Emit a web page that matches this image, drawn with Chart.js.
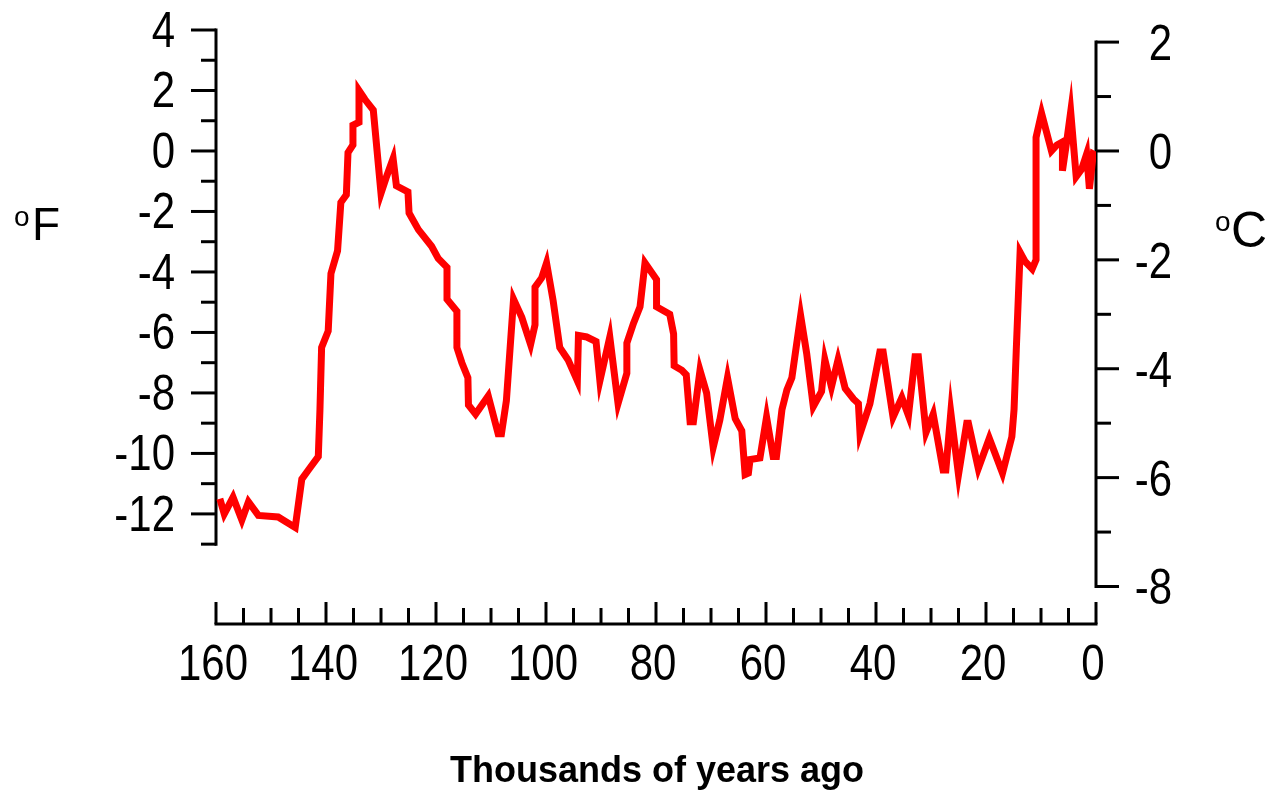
<!DOCTYPE html>
<html>
<head>
<meta charset="utf-8">
<title>Temperature, last 160,000 years</title>
<script src="https://cdn.jsdelivr.net/npm/chart.js@4.4.1/dist/chart.umd.min.js"></script>
<style>
  html, body { margin: 0; padding: 0; background: #ffffff; }
  #wrap { position: relative; width: 1272px; height: 792px; }
</style>
</head>
<body>
<div id="wrap"><canvas id="tempChart"></canvas></div>
<script>
// ------------------------------------------------------------
// Data
// ------------------------------------------------------------
const ages = [
  159.3, 158.5, 156.9, 155.3, 154.1, 152.3, 148.7, 145.6, 144.4, 143.2,
  141.4, 141.1, 140.8, 139.6, 139.1, 137.9, 137.3, 136.3, 136.0, 135.1,
  135.1, 134.0, 134.0, 132.9, 131.4, 130.0, 129.0, 127.8, 127.2, 125.1,
  124.9, 123.2, 120.8, 119.6, 118.0, 118.0, 116.2, 116.2, 115.3, 114.2,
  114.1, 112.8, 110.5, 108.7, 108.1, 107.2, 105.9, 104.4, 102.8, 102.0,
  102.0, 100.8, 99.9, 98.7, 97.5, 96.0, 94.3, 94.1, 92.6, 90.9,
  90.2, 88.4, 86.9, 85.3, 85.3, 84.1, 82.9, 82.0, 79.9, 79.9,
  77.5, 76.8, 76.7, 75.3, 74.5, 73.8, 73.2, 72.0, 70.8, 69.6,
  68.4, 67.0, 65.6, 64.4, 63.8, 63.2, 62.9, 61.1, 59.9, 58.7,
  58.1, 57.1, 56.2, 55.3, 53.7, 52.6, 51.4, 49.9, 49.3, 48.1,
  46.9, 45.6, 44.1, 43.2, 42.9, 41.1, 39.3, 38.7, 36.9, 35.3,
  34.1, 32.9, 32.3, 30.9, 29.6, 27.8, 27.3, 26.4, 25.0, 23.5,
  23.2, 21.4, 19.4, 17.0, 15.3, 14.9, 14.5, 13.8, 12.9, 11.6,
  10.9, 10.9, 9.9, 8.1, 7.1, 6.1, 6.1, 5.3, 4.6, 3.6,
  2.6, 1.7, 1.2, 0.5, 0.0
];

const tempF = [
  -11.5, -12.0, -11.45, -12.2, -11.6, -12.05, -12.1, -12.45, -10.85, -10.55,
  -10.1, -8.55, -6.5, -5.95, -4.05, -3.3, -1.7, -1.45, -0.05, 0.2,
  0.85, 0.95, 2.0, 1.7, 1.35, -1.4, -0.85, -0.25, -1.15, -1.35,
  -2.05, -2.6, -3.15, -3.55, -3.85, -4.9, -5.3, -6.5, -7.0, -7.5,
  -8.4, -8.7, -8.1, -9.35, -9.35, -8.25, -4.9, -5.5, -6.4, -5.75,
  -4.5, -4.2, -3.7, -4.95, -6.5, -6.9, -7.6, -6.1, -6.15, -6.3,
  -7.6, -6.15, -8.35, -7.35, -6.35, -5.7, -5.15, -3.7, -4.25, -5.15,
  -5.4, -6.05, -7.1, -7.25, -7.4, -8.95, -8.95, -7.25, -8.0, -9.8,
  -8.9, -7.5, -8.85, -9.25, -10.7, -10.65, -10.2, -10.15, -8.8, -10.1,
  -10.1, -8.55, -7.9, -7.5, -5.45, -6.7, -8.45, -7.95, -6.9, -7.8,
  -6.9, -7.85, -8.2, -8.35, -9.35, -8.35, -6.65, -6.65, -8.8, -8.15,
  -8.75, -6.8, -6.8, -9.3, -8.7, -10.55, -10.55, -8.65, -10.7, -9.0,
  -9.0, -10.5, -9.5, -10.65, -9.45, -8.55, -6.6, -3.35, -3.65, -3.9,
  -3.6, 0.45, 1.25, 0.0, 0.2, 0.3, -0.65, 0.35, 1.3, -0.85,
  -0.6, -0.1, -1.25, -0.1, -0.15
];

// tick labels
const xTickLabels = [160, 140, 120, 100, 80, 60, 40, 20, 0];
const fTickLabels = [4, 2, 0, -2, -4, -6, -8, -10, -12];
const cTickLabels = [2, 0, -2, -4, -6, -8];

// ------------------------------------------------------------
// Layout / style
// ------------------------------------------------------------
const F_MAX = 4;
const F_MIN = -15.64;
const FONT = '"Liberation Sans", Arial, Helvetica, sans-serif';
const LABEL_SIZE = 42;
const LABEL_STRETCH = 1.17;

function stretchText(ctx, text, x, y, align) {
  ctx.save();
  ctx.translate(x, y);
  ctx.scale(1, LABEL_STRETCH);
  ctx.textAlign = align;
  ctx.textBaseline = "alphabetic";
  ctx.fillText(text, 0, 0);
  ctx.restore();
}

function line(ctx, x1, y1, x2, y2) {
  ctx.beginPath();
  ctx.moveTo(x1, y1);
  ctx.lineTo(x2, y2);
  ctx.stroke();
}

// ------------------------------------------------------------
// Axes drawn from the chart's own scales
// ------------------------------------------------------------
const axesPlugin = {
  id: "paleoAxes",
  beforeDatasetsDraw(chart) {
    const ctx = chart.ctx;
    const xs = chart.scales.x;
    const yf = chart.scales.y;
    const yc = chart.scales.yC;

    ctx.save();
    ctx.strokeStyle = "#000";
    ctx.fillStyle = "#000";
    ctx.lineWidth = 3;
    ctx.lineCap = "butt";
    ctx.font = LABEL_SIZE + "px " + FONT;

    // left axis (deg F)
    const lx = xs.getPixelForValue(160);
    line(ctx, lx, yf.getPixelForValue(4) - 1.5, lx, yf.getPixelForValue(-13) + 1.5);
    for (let v = 4; v >= -13; v--) {
      const y = yf.getPixelForValue(v);
      const len = v % 2 === 0 ? 25 : 15;
      line(ctx, lx - len, y, lx, y);
    }
    fTickLabels.forEach((v) => {
      stretchText(ctx, String(v), 175, yf.getPixelForValue(v) + 17, "right");
    });

    // right axis (deg C)
    const rx = xs.getPixelForValue(0);
    line(ctx, rx, yc.getPixelForValue(2) - 1.5, rx, yc.getPixelForValue(-8) + 1.5);
    for (let v = 2; v >= -8; v--) {
      const y = yc.getPixelForValue(v);
      const len = v % 2 === 0 ? 23 : 15;
      line(ctx, rx, y, rx + len, y);
    }
    cTickLabels.forEach((v) => {
      stretchText(ctx, String(v), 1172, yc.getPixelForValue(v) + 18, "right");
    });

    // bottom axis (thousands of years)
    const by = chart.chartArea.bottom;
    line(ctx, xs.getPixelForValue(160) - 1.5, by, xs.getPixelForValue(0) + 1.5, by);
    for (let v = 160; v >= 0; v -= 5) {
      const x = xs.getPixelForValue(v);
      const len = v % 20 === 0 ? 22 : 16;
      line(ctx, x, by, x, by - len);
    }
    xTickLabels.forEach((v) => {
      stretchText(ctx, String(v), xs.getPixelForValue(v) - 3, 680, "center");
    });

    // axis titles
    ctx.textAlign = "left";
    ctx.textBaseline = "alphabetic";
    ctx.font = "28px " + FONT;
    ctx.fillText("o", 14, 226);
    ctx.fillText("o", 1215, 231);
    ctx.font = "46px " + FONT;
    ctx.fillText("F", 32, 240);
    ctx.font = "50px " + FONT;
    ctx.fillText("C", 1231, 247);

    ctx.textAlign = "center";
    ctx.font = "bold 36px " + FONT;
    ctx.fillText("Thousands of years ago", 657, 782);

    ctx.restore();
  },
};

// ------------------------------------------------------------
// Chart
// ------------------------------------------------------------
function initChart() {
  const ctx = document.getElementById("tempChart").getContext("2d");

  new Chart(ctx, {
    type: "line",
    data: {
      datasets: [
        {
          label: "Temperature anomaly (deg F)",
          data: ages.map((a, i) => ({ x: a, y: tempF[i] })),
          borderColor: "#ff0000",
          borderWidth: 7,
          borderJoinStyle: "miter",
          pointRadius: 0,
          tension: 0,
          fill: false,
        },
      ],
    },
    options: {
      responsive: true,
      maintainAspectRatio: false,
      animation: false,
      events: [],
      layout: {
        padding: { left: 216, right: 176, top: 30, bottom: 168 },
      },
      scales: {
        x: { type: "linear", min: 0, max: 160, reverse: true, display: false },
        y: { type: "linear", min: F_MIN, max: F_MAX, display: false },
        yC: {
          type: "linear",
          position: "right",
          min: F_MIN / 1.8,
          max: F_MAX / 1.8,
          display: false,
        },
      },
      plugins: {
        legend: { display: false },
        tooltip: { enabled: false },
      },
    },
    plugins: [axesPlugin],
  });
}

window.addEventListener("DOMContentLoaded", initChart);
</script>
</body>
</html>
